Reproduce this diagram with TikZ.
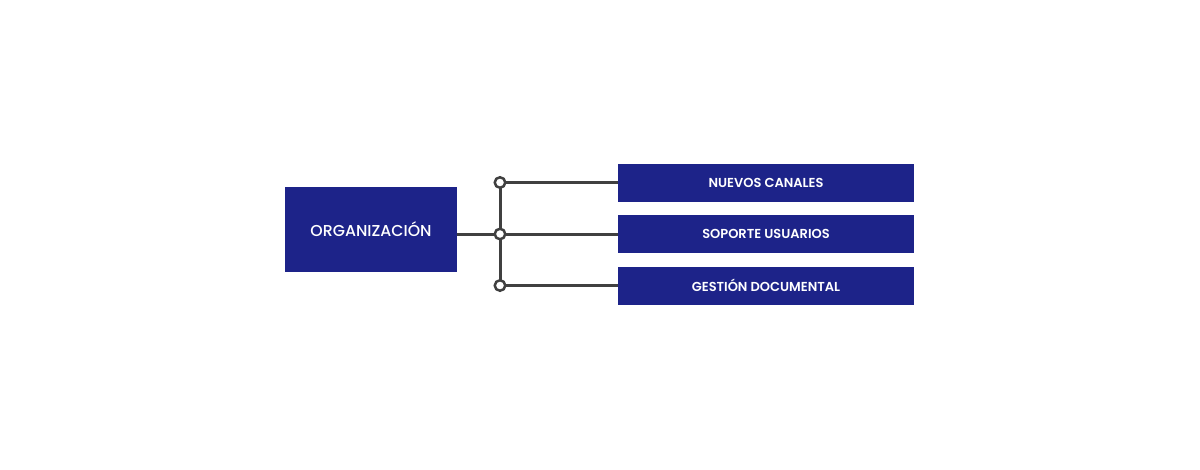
\documentclass[tikz,border=0pt]{standalone}
\usepackage{fontspec}
\setmainfont{Poppins}
\definecolor{boxblue}{RGB}{29,35,137}
\definecolor{linegray}{RGB}{64,64,64}
\begin{document}
\begin{tikzpicture}[x=1pt,y=-1pt,
  orgbox/.style={fill=boxblue,draw=none,minimum width=172pt,minimum height=85pt,inner sep=0pt,text=white,font=\fontsize{15.8}{18}\selectfont\fontspec{Poppins Medium}},
  itembox/.style={fill=boxblue,draw=none,minimum width=296pt,minimum height=38pt,inner sep=0pt,text=white,font=\fontsize{13}{15}\selectfont\fontspec{Poppins SemiBold}},
  conn/.style={draw=linegray,line width=3pt},
  junction/.style={circle,draw=linegray,fill=white,line width=2.5pt,minimum size=10.5pt,inner sep=0pt}]
\useasboundingbox (0,0) rectangle (1200,469);
\node[orgbox] (org) at (371,229.5) {ORGANIZACIÓN};
\node[itembox] (b1) at (766,183) {NUEVOS CANALES};
\node[itembox] (b2) at (766,234) {SOPORTE USUARIOS};
\node[itembox] (b3) at (766,285.5) {GESTIÓN DOCUMENTAL};
\coordinate (j1) at (500,182.5);
\coordinate (j2) at (500,234);
\coordinate (j3) at (500,285.5);
\draw[conn] (j1) -- (j3);
\draw[conn] (org.east |- j2) -- (j2);
\draw[conn] (j1) -- (b1.west |- j1);
\draw[conn] (j2) -- (b2.west |- j2);
\draw[conn] (j3) -- (b3.west |- j3);
\node[junction] (c1) at (j1) {};
\node[junction] (c2) at (j2) {};
\node[junction] (c3) at (j3) {};
\end{tikzpicture}
\end{document}
